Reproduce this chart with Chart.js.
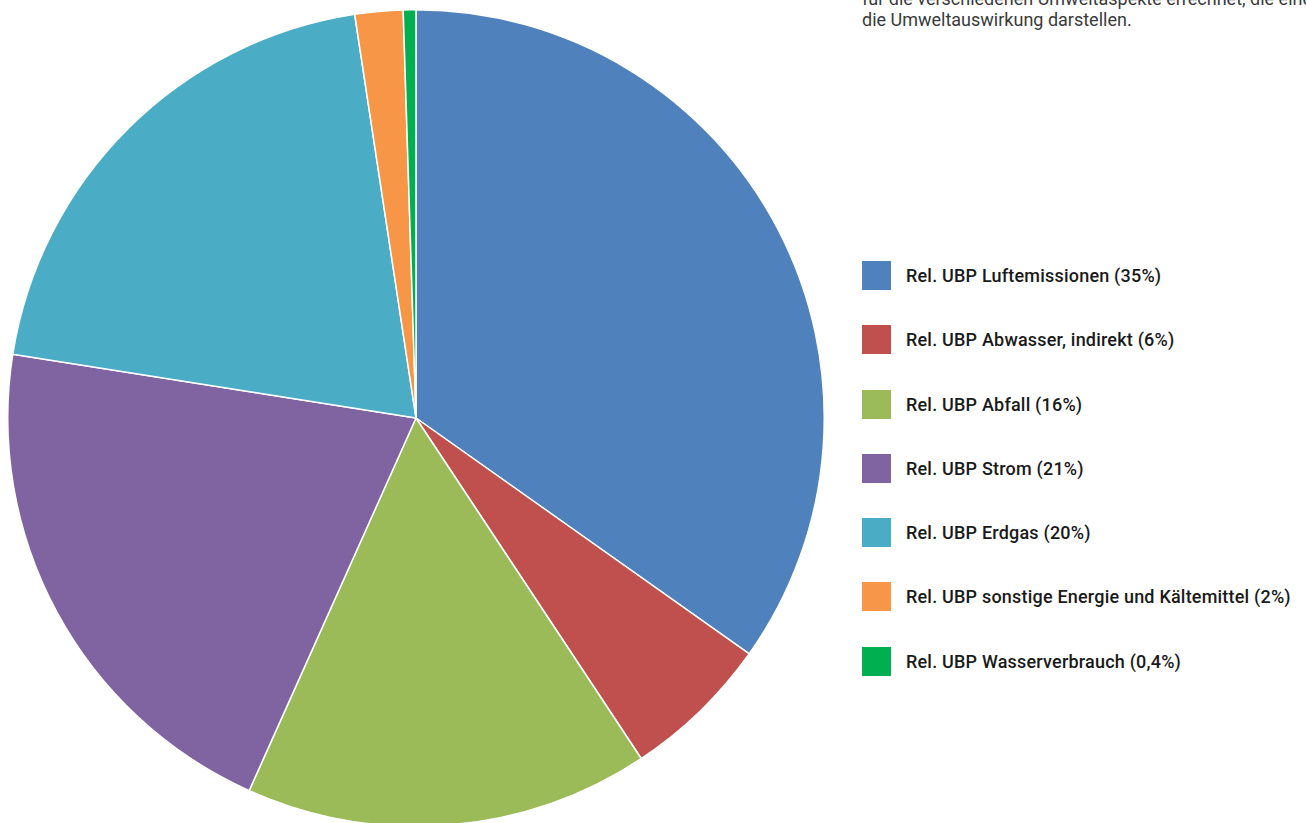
<!DOCTYPE html>
<html>
<head>
<meta charset="utf-8">
<script src="https://cdn.jsdelivr.net/npm/chart.js@4"></script>
<style>
    html, body { margin: 0; padding: 0; background: #fff; overflow: hidden; }
    body { width: 1306px; height: 823px; position: relative; font-family: Roboto, "Open Sans", sans-serif; }
    #pie { position: absolute; left: 7px; top: 9px; }
    .note { position: absolute; left: 862px; top: -12px; width: 444px; overflow: hidden; white-space: nowrap;
            font-size: 18px; line-height: 21px; color: #3a3a3a; font-weight: 400; }
    #legend { position: absolute; left: 862px; top: 261px; }
    .item { height: 29px; margin-bottom: 35.3px; display: flex; align-items: center; }
    .box { width: 29px; height: 29px; margin-right: 15px; }
    .lbl { font-size: 18px; font-weight: 500; color: #1a1a1a; white-space: nowrap; letter-spacing: 0.2px; }
</style>
</head>
<body>
<div class="note">für die verschiedenen Umweltaspekte errechnet, die eine gewichtete Bewertung<br>die Umweltauswirkung darstellen.</div>
<canvas id="pie" width="818" height="818"></canvas>
<div id="legend"></div>
<script>
// Kategorien, wie in der Legende
const labels = [
    'Rel. UBP Luftemissionen (35%)',
    'Rel. UBP Abwasser, indirekt (6%)',
    'Rel. UBP Abfall (16%)',
    'Rel. UBP Strom (21%)',
    'Rel. UBP Erdgas (20%)',
    'Rel. UBP sonstige Energie und Kältemittel (2%)',
    'Rel. UBP Wasserverbrauch (0,4%)'
];
// Anteile (Winkel der Segmente)
const shares = [34.8, 5.9, 16.0, 20.8, 20.1, 1.9, 0.5];
const colors = ['#4F81BD', '#C0504D', '#9BBB59', '#8064A2', '#4BACC6', '#F79646', '#00B050'];

new Chart(document.getElementById('pie'), {
    type: 'pie',
    data: {
        labels: labels,
        datasets: [{
            data: shares,
            backgroundColor: colors,
            borderColor: '#ffffff',
            borderWidth: 1.5,
            hoverOffset: 0
        }]
    },
    options: {
        responsive: false,
        animation: false,
        layout: { padding: 0 },
        plugins: {
            legend: { display: false },
            tooltip: { enabled: false }
        }
    }
});

// Legende rechts
const legend = document.getElementById('legend');
labels.forEach((l, i) => {
    legend.insertAdjacentHTML('beforeend',
        `<div class="item"><div class="box" style="background:${colors[i]}"></div><span class="lbl">${l}</span></div>`);
});
</script>
</body>
</html>
